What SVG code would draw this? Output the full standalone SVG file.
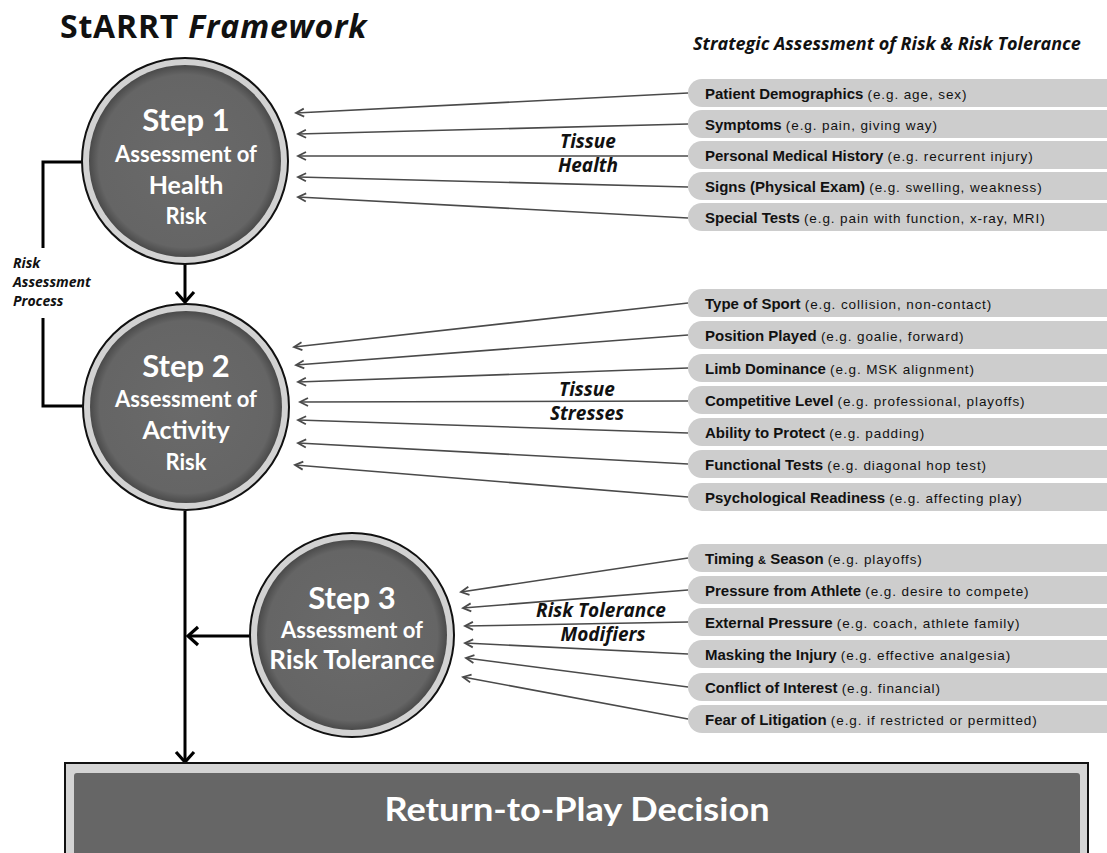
<svg xmlns="http://www.w3.org/2000/svg" width="1107" height="853" viewBox="0 0 1107 853">
<defs>
<style>
.title{font-family:"Open Sans",Lato,sans-serif;font-weight:bold;font-size:32px;letter-spacing:0.8px;fill:#111}
.sub{font-family:"Open Sans",Lato,sans-serif;font-weight:bold;font-style:italic;font-size:18px;fill:#111}
.lab{font-family:"Open Sans",Lato,sans-serif;font-weight:bold;font-style:italic;font-size:19px;fill:#111;text-anchor:middle}
.side{font-family:"Open Sans",Lato,sans-serif;font-weight:bold;font-style:italic;font-size:14px;fill:#111}
.ct{font-family:Lato,"Open Sans",sans-serif;font-weight:bold;fill:#fff;text-anchor:middle}
.pill{fill:#cdcdcd}
.pt{font-family:"Liberation Sans",Arial,sans-serif;font-size:15px;font-weight:bold;fill:#111}
.eg{font-weight:normal;font-size:13.5px;letter-spacing:0.9px}
.thin{stroke:#4a4a4a;stroke-width:1.6;fill:none;marker-end:url(#ah)}
.thick{stroke:#000;stroke-width:3;fill:none}
.ring{fill:#d2d2d2;stroke:#111;stroke-width:2}
.core{fill:url(#cg)}
</style>
<radialGradient id="cg" cx="0.5" cy="0.5" r="0.5">
<stop offset="0" stop-color="#6a6a6a"/>
<stop offset="0.9" stop-color="#656565"/>
<stop offset="1" stop-color="#4a4a4a"/>
</radialGradient>
<marker id="ah" markerUnits="userSpaceOnUse" markerWidth="12" markerHeight="12" viewBox="-10 -6 12 12" refX="0" refY="0" orient="auto">
<path d="M-8,-4 L0,0 L-8,4" fill="none" stroke="#4a4a4a" stroke-width="1.8"/>
</marker>
<marker id="big" markerUnits="userSpaceOnUse" markerWidth="24" markerHeight="24" viewBox="-12 -12 24 24" refX="0" refY="0" orient="auto">
<path d="M-10,-9 L0,0 L-10,9" fill="none" stroke="#000" stroke-width="3.2"/>
</marker>
</defs>
<rect width="1107" height="853" fill="#fff"/>

<g id="title">
<text class="title" x="60" y="38">StARRT <tspan font-style="italic">Framework</tspan></text>
<text class="sub" x="693" y="50">Strategic Assessment of Risk &amp; Risk Tolerance</text>
</g>

<g id="connectors">
<path class="thick" d="M82,162 H43 V248"/>
<path class="thick" d="M43,318 V406 H84"/>
<line class="thick" x1="185" y1="264" x2="185" y2="302" marker-end="url(#big)"/>
<line class="thick" x1="185" y1="511" x2="185" y2="762" marker-end="url(#big)"/>
<line class="thick" x1="250" y1="636" x2="188" y2="636" marker-end="url(#big)"/>
<line class="thin" x1="688" y1="93" x2="296" y2="113"/>
<line class="thin" x1="688" y1="124" x2="298" y2="134"/>
<line class="thin" x1="688" y1="156" x2="298" y2="156"/>
<line class="thin" x1="688" y1="187" x2="298" y2="177"/>
<line class="thin" x1="688" y1="218" x2="298" y2="197"/>
<line class="thin" x1="688" y1="303" x2="294" y2="347"/>
<line class="thin" x1="688" y1="335" x2="296" y2="365"/>
<line class="thin" x1="688" y1="368" x2="298" y2="382"/>
<line class="thin" x1="688" y1="401" x2="300" y2="402"/>
<line class="thin" x1="688" y1="433" x2="298" y2="420"/>
<line class="thin" x1="688" y1="464" x2="298" y2="443"/>
<line class="thin" x1="688" y1="497" x2="295" y2="465"/>
<line class="thin" x1="688" y1="558" x2="461" y2="592"/>
<line class="thin" x1="688" y1="590" x2="463" y2="608"/>
<line class="thin" x1="688" y1="622" x2="465" y2="626"/>
<line class="thin" x1="688" y1="654" x2="465" y2="643"/>
<line class="thin" x1="688" y1="687" x2="466" y2="658"/>
<line class="thin" x1="688" y1="719" x2="463" y2="677"/>
</g>

<g id="labels">
<text class="lab" x="588" y="148">Tissue</text>
<text class="lab" x="588" y="172">Health</text>
<text class="lab" x="587" y="396">Tissue</text>
<text class="lab" x="587" y="420">Stresses</text>
<text class="lab" x="601" y="617" font-size="17">Risk Tolerance</text>
<text class="lab" x="603" y="641" font-size="17">Modifiers</text>
<text class="side" x="13" y="268">Risk</text>
<text class="side" x="13" y="287">Assessment</text>
<text class="side" x="13" y="306">Process</text>
</g>

<g id="step1">
<circle class="ring" cx="185" cy="161" r="103"/>
<circle class="core" cx="185" cy="161" r="96"/>
<text class="ct" x="186" y="131" font-size="31">Step 1</text>
<text class="ct" x="186" y="162" font-size="22">Assessment of</text>
<text class="ct" x="186" y="194" font-size="25">Health</text>
<text class="ct" x="186" y="224" font-size="22">Risk</text>
</g>

<g id="step2">
<circle class="ring" cx="186" cy="407" r="103"/>
<circle class="core" cx="186" cy="407" r="96"/>
<text class="ct" x="186" y="377" font-size="31">Step 2</text>
<text class="ct" x="186" y="407" font-size="22">Assessment of</text>
<text class="ct" x="186" y="439" font-size="25">Activity</text>
<text class="ct" x="186" y="470" font-size="22">Risk</text>
</g>

<g id="step3">
<circle class="ring" cx="352" cy="635" r="102"/>
<circle class="core" cx="352" cy="635" r="95"/>
<text class="ct" x="352" y="609" font-size="31">Step 3</text>
<text class="ct" x="352" y="638" font-size="22">Assessment of</text>
<text class="ct" x="352" y="669" font-size="26">Risk Tolerance</text>
</g>

<g id="decision">
<rect x="65" y="763" width="1023" height="100" fill="#d4d4d4" stroke="#111" stroke-width="2"/>
<rect x="74" y="773" width="1006" height="84" rx="3" fill="#666"/>
<text class="ct" x="577" y="821" font-size="33" textLength="385" lengthAdjust="spacingAndGlyphs">Return-to-Play Decision</text>
</g>

<g id="f1"><rect class="pill" x="688" y="79" width="440" height="28" rx="14"/><text class="pt" x="705" y="99">Patient Demographics <tspan class="eg">(e.g. age, sex)</tspan></text></g>
<g id="f2"><rect class="pill" x="688" y="110" width="440" height="28" rx="14"/><text class="pt" x="705" y="130">Symptoms <tspan class="eg">(e.g. pain, giving way)</tspan></text></g>
<g id="f3"><rect class="pill" x="688" y="141" width="440" height="28" rx="14"/><text class="pt" x="705" y="161">Personal Medical History <tspan class="eg">(e.g. recurrent injury)</tspan></text></g>
<g id="f4"><rect class="pill" x="688" y="172" width="440" height="28" rx="14"/><text class="pt" x="705" y="192">Signs (Physical Exam) <tspan class="eg">(e.g. swelling, weakness)</tspan></text></g>
<g id="f5"><rect class="pill" x="688" y="203" width="440" height="28" rx="14"/><text class="pt" x="705" y="223">Special Tests <tspan class="eg">(e.g. pain with function, x-ray, MRI)</tspan></text></g>

<g id="a1"><rect class="pill" x="688" y="289" width="440" height="28" rx="14"/><text class="pt" x="705" y="309">Type of Sport <tspan class="eg">(e.g. collision, non-contact)</tspan></text></g>
<g id="a2"><rect class="pill" x="688" y="321" width="440" height="28" rx="14"/><text class="pt" x="705" y="341">Position Played <tspan class="eg">(e.g. goalie, forward)</tspan></text></g>
<g id="a3"><rect class="pill" x="688" y="354" width="440" height="28" rx="14"/><text class="pt" x="705" y="374">Limb Dominance <tspan class="eg">(e.g. MSK alignment)</tspan></text></g>
<g id="a4"><rect class="pill" x="688" y="386" width="440" height="28" rx="14"/><text class="pt" x="705" y="406">Competitive Level <tspan class="eg">(e.g. professional, playoffs)</tspan></text></g>
<g id="a5"><rect class="pill" x="688" y="418" width="440" height="28" rx="14"/><text class="pt" x="705" y="438">Ability to Protect <tspan class="eg">(e.g. padding)</tspan></text></g>
<g id="a6"><rect class="pill" x="688" y="450" width="440" height="28" rx="14"/><text class="pt" x="705" y="470">Functional Tests <tspan class="eg">(e.g. diagonal hop test)</tspan></text></g>
<g id="a7"><rect class="pill" x="688" y="483" width="440" height="28" rx="14"/><text class="pt" x="705" y="503">Psychological Readiness <tspan class="eg">(e.g. affecting play)</tspan></text></g>

<g id="m1"><rect class="pill" x="688" y="544" width="440" height="28" rx="14"/><text class="pt" x="705" y="564">Timing <tspan font-size="11">&amp;</tspan> Season <tspan class="eg">(e.g. playoffs)</tspan></text></g>
<g id="m2"><rect class="pill" x="688" y="576" width="440" height="28" rx="14"/><text class="pt" x="705" y="596">Pressure from Athlete <tspan class="eg">(e.g. desire to compete)</tspan></text></g>
<g id="m3"><rect class="pill" x="688" y="608" width="440" height="28" rx="14"/><text class="pt" x="705" y="628">External Pressure <tspan class="eg">(e.g. coach, athlete family)</tspan></text></g>
<g id="m4"><rect class="pill" x="688" y="640" width="440" height="28" rx="14"/><text class="pt" x="705" y="660">Masking the Injury <tspan class="eg">(e.g. effective analgesia)</tspan></text></g>
<g id="m5"><rect class="pill" x="688" y="673" width="440" height="28" rx="14"/><text class="pt" x="705" y="693">Conflict of Interest <tspan class="eg">(e.g. financial)</tspan></text></g>
<g id="m6"><rect class="pill" x="688" y="705" width="440" height="28" rx="14"/><text class="pt" x="705" y="725">Fear of Litigation <tspan class="eg">(e.g. if restricted or permitted)</tspan></text></g>
</svg>
